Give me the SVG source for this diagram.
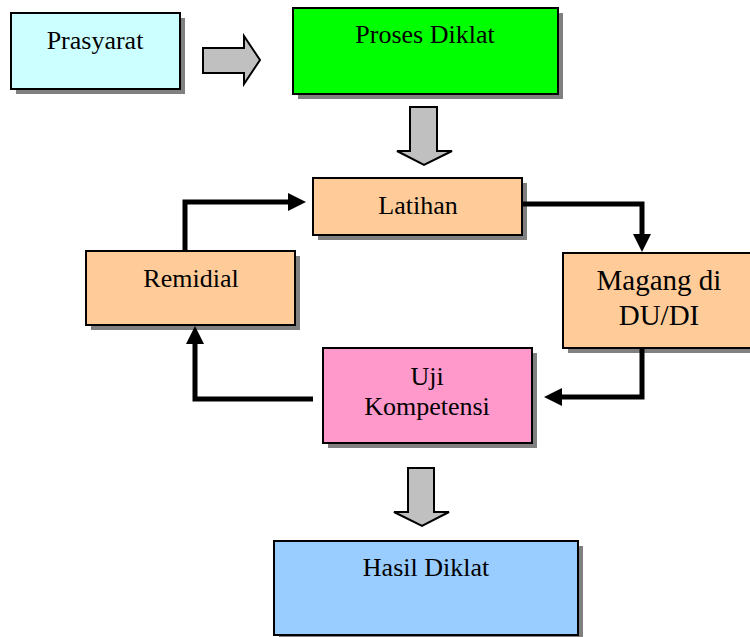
<svg xmlns="http://www.w3.org/2000/svg" width="750" height="637" viewBox="0 0 750 637">
<style>
.sh{fill:#808080}
.bx{stroke:#000;stroke-width:2}
.t{font-family:"Liberation Serif","Times New Roman",serif;font-size:26px;fill:#000;text-anchor:middle}
.blk{fill:#C0C0C0;stroke:#000;stroke-width:2;stroke-linejoin:miter}
.ln{fill:none;stroke:#000;stroke-width:5;stroke-linejoin:miter}
.hd{fill:#000}
</style>
<rect width="750" height="637" fill="#fff"/>
<g id="prasyarat">
<rect class="sh" x="16" y="18" width="169" height="76"/>
<rect class="bx" x="11" y="13" width="169" height="76" fill="#CCFFFF"/>
<text class="t" x="95" y="49">Prasyarat</text>
</g>
<g id="proses-diklat">
<rect class="sh" x="298" y="13" width="265" height="86"/>
<rect class="bx" x="293" y="8" width="265" height="86" fill="#00FF00"/>
<text class="t" x="425" y="43">Proses Diklat</text>
</g>
<g id="latihan">
<rect class="sh" x="318" y="183" width="209" height="57"/>
<rect class="bx" x="313" y="178" width="209" height="57" fill="#FFCC99"/>
<text class="t" x="418" y="214">Latihan</text>
</g>
<g id="remidial">
<rect class="sh" x="91" y="256" width="209" height="74"/>
<rect class="bx" x="86" y="251" width="209" height="74" fill="#FFCC99"/>
<text class="t" x="191" y="287">Remidial</text>
</g>
<g id="magang">
<rect class="sh" x="568" y="258" width="192" height="95"/>
<rect class="bx" x="563" y="253" width="192" height="95" fill="#FFCC99"/>
<text class="t" x="659" y="290" style="font-size:29px">Magang di</text>
<text class="t" x="659" y="325" style="font-size:29px">DU/DI</text>
</g>
<g id="uji-kompetensi">
<rect class="sh" x="328" y="353" width="209" height="95"/>
<rect class="bx" x="323" y="348" width="209" height="95" fill="#FF99CC"/>
<text class="t" x="427" y="385">Uji</text>
<text class="t" x="427" y="415">Kompetensi</text>
</g>
<g id="hasil-diklat">
<rect class="sh" x="279" y="546" width="304" height="94"/>
<rect class="bx" x="274" y="541" width="304" height="94" fill="#99CCFF"/>
<text class="t" x="426" y="576">Hasil Diklat</text>
</g>
<g id="connectors">
<path class="blk" d="M203,48 H244 V36 L260,60 L244,84 V73 H203 Z"/>
<path class="blk" d="M410,107 H437 V151 H452 L424,165 L397,151 H410 Z"/>
<path class="blk" d="M408,468 H434 V512 H449 L422,526 L394,512 H408 Z"/>
<path class="ln" d="M185,251 V202 H290"/>
<path class="ln" d="M522,204 H642 V236"/>
<path class="ln" d="M642,348 V397 H560"/>
<path class="ln" d="M313,399 H195 V342"/>
<path class="hd" d="M288,193 L306,202 L288,211 Z"/>
<path class="hd" d="M633,234 L642,252 L651,234 Z"/>
<path class="hd" d="M562,388 L544,397 L562,406 Z"/>
<path class="hd" d="M186,344 L195,326 L204,344 Z"/>
</g>
</svg>
